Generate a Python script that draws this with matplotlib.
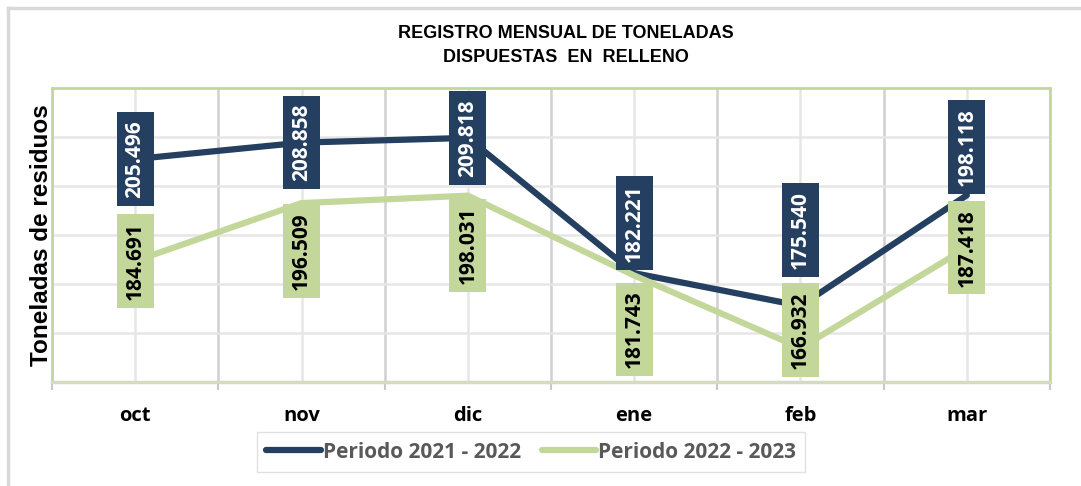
import matplotlib.pyplot as plt
from matplotlib.lines import Line2D

meses = ['oct', 'nov', 'dic', 'ene', 'feb', 'mar']
periodo_2122 = [205.496, 208.858, 209.818, 182.221, 175.540, 198.118]
periodo_2223 = [184.691, 196.509, 198.031, 181.743, 166.932, 187.418]

azul = '#243f60'
verde = '#c4d79b'

# desplazamiento vertical (px) de cada etiqueta respecto a su punto
desp_azul = [0, 0, 0, 50, 76, 48]
desp_verde = [0, -48, -50, -54, 18, 0]

fig = plt.figure(figsize=(10.81, 4.86), dpi=100)
ax = fig.add_axes([52 / 1081, 104 / 486, 998 / 1081, 294 / 486])

x = list(range(len(meses)))
ax.plot(x, periodo_2122, color=azul, lw=4.5, solid_capstyle='round', label='Periodo 2021 - 2022', zorder=3)
ax.plot(x, periodo_2223, color=verde, lw=4.5, solid_capstyle='round', label='Periodo 2022 - 2023', zorder=3)

for i, v in enumerate(periodo_2122):
    ax.annotate(f'{v:.3f}', xy=(i, v), xytext=(0, desp_azul[i]), textcoords='offset pixels',
                rotation=90, ha='center', va='center', color='white', fontsize=15,
                fontweight='bold', family='Open Sans', zorder=5,
                bbox=dict(boxstyle='square,pad=0.38', fc=azul, ec='none'))
for i, v in enumerate(periodo_2223):
    ax.annotate(f'{v:.3f}', xy=(i, v), xytext=(0, desp_verde[i]), textcoords='offset pixels',
                rotation=90, ha='center', va='center', color='black', fontsize=15,
                fontweight='bold', family='Open Sans', zorder=4,
                bbox=dict(boxstyle='square,pad=0.38', fc=verde, ec='none'))

ax.set_xlim(-0.5, 5.5)
ax.set_ylim(160, 220)
ax.set_yticks(range(160, 221, 10))
ax.set_yticklabels([])
ax.set_xticks(x)
ax.set_xticklabels(meses, fontsize=14.5, fontweight='bold', family='Open Sans')
ax.set_xticks([i - 0.5 for i in range(len(meses) + 1)], minor=True)
ax.tick_params(axis='x', which='major', length=0, pad=17)
ax.tick_params(axis='x', which='minor', length=6, width=1.5, color='#c8c8c8')
ax.tick_params(axis='y', length=0)

ax.grid(axis='y', color='#e6e6e6', lw=1.8)
ax.grid(axis='x', which='major', color='#e6e6e6', lw=1.8)
ax.grid(axis='x', which='minor', color='#d0d0d0', lw=1.8)
ax.set_axisbelow(True)

for s in ['top', 'left', 'right']:
    ax.spines[s].set_color(verde)
    ax.spines[s].set_linewidth(2)
ax.spines['bottom'].set_color('#d3dbc0')
ax.spines['bottom'].set_linewidth(2.5)

ax.set_ylabel('Toneladas de residuos', fontsize=17.5, fontweight='bold', family='Liberation Sans', labelpad=-4)

fig.text(566 / 1081, 1 - 33 / 486, 'REGISTRO MENSUAL DE TONELADAS', ha='center', va='center',
         fontsize=13, fontweight='bold', family='Liberation Sans')
fig.text(566 / 1081, 1 - 57 / 486, 'DISPUESTAS  EN  RELLENO', ha='center', va='center',
         fontsize=13, fontweight='bold', family='Liberation Sans')

leg = fig.legend(loc='center', bbox_to_anchor=(531 / 1081, 1 - 452 / 486), ncol=2, frameon=True,
                 fancybox=False, edgecolor='#d9d9d9', handlelength=2.6, handletextpad=0.1,
                 columnspacing=1.0, borderpad=0.45,
                 prop={'family': 'Open Sans', 'weight': 'bold', 'size': 15})
for t in leg.get_texts():
    t.set_color('#595959')

# marco exterior
fig.add_artist(Line2D([8 / 1081, 8 / 1081], [0, 1 - 8 / 486], color='#d9d9d9', lw=2.5))
fig.add_artist(Line2D([8 / 1081, 1], [1 - 8 / 486, 1 - 8 / 486], color='#d9d9d9', lw=2.5))

fig.savefig('out.png', dpi=100)
